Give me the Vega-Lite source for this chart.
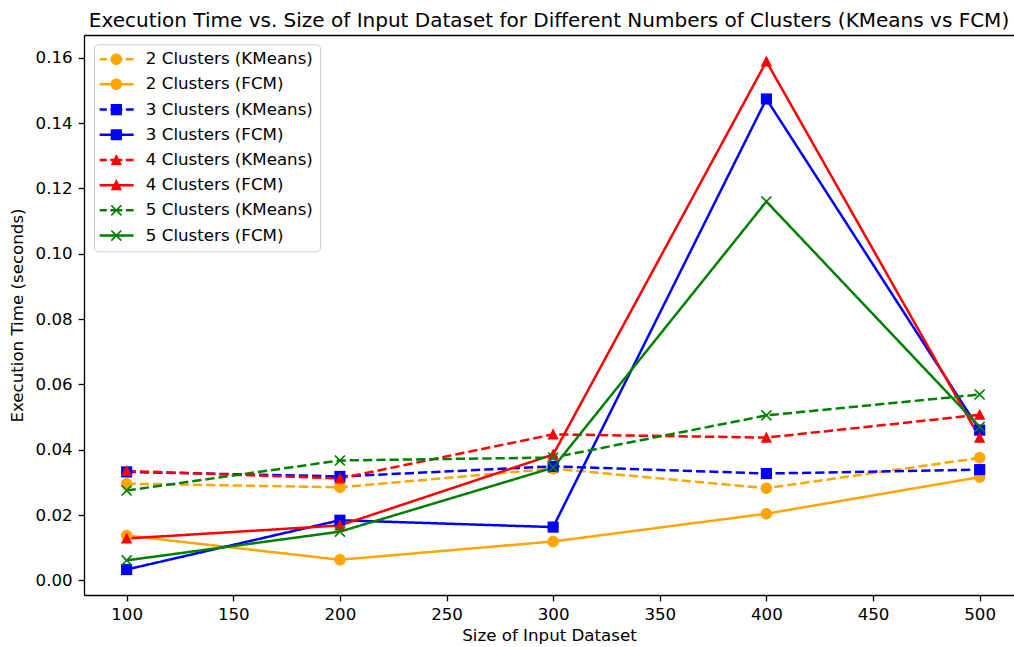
{
  "$schema": "https://vega.github.io/schema/vega-lite/v6.json",
  "autosize": "none",
  "width": 930,
  "height": 560,
  "padding": {"left": 84, "top": 35, "right": 0, "bottom": 52},
  "title": {"text": "Execution Time vs. Size of Input Dataset for Different Numbers of Clusters (KMeans vs FCM)", "font": "DejaVu Sans", "fontSize": 20, "fontWeight": "normal", "color": "black", "anchor": "middle", "baseline": "alphabetic", "offset": 9, "dy": 21},
  "config": {
    "view": {"stroke": null},
    "font": "DejaVu Sans",
    "axis": {"labelFont": "DejaVu Sans", "labelFontSize": 16.67, "labelColor": "black", "titleFont": "DejaVu Sans", "titleFontSize": 16.67, "titleFontWeight": "normal", "titleColor": "black", "tickColor": "black", "domainColor": "black", "tickSize": 5.8, "tickWidth": 1.33, "domainWidth": 1.33, "labelPadding": 6, "grid": false}
  },
  "data": {"values": [
    {"size": 100, "clusters": 2, "series": "2 Clusters (KMeans)", "time": 0.0296},
    {"size": 200, "clusters": 2, "series": "2 Clusters (KMeans)", "time": 0.0285},
    {"size": 300, "clusters": 2, "series": "2 Clusters (KMeans)", "time": 0.0342},
    {"size": 400, "clusters": 2, "series": "2 Clusters (KMeans)", "time": 0.0282},
    {"size": 500, "clusters": 2, "series": "2 Clusters (KMeans)", "time": 0.0375},
    {"size": 100, "clusters": 2, "series": "2 Clusters (FCM)", "time": 0.0137},
    {"size": 200, "clusters": 2, "series": "2 Clusters (FCM)", "time": 0.0063},
    {"size": 300, "clusters": 2, "series": "2 Clusters (FCM)", "time": 0.0119},
    {"size": 400, "clusters": 2, "series": "2 Clusters (FCM)", "time": 0.0204},
    {"size": 500, "clusters": 2, "series": "2 Clusters (FCM)", "time": 0.0316},
    {"size": 100, "clusters": 3, "series": "3 Clusters (KMeans)", "time": 0.0332},
    {"size": 200, "clusters": 3, "series": "3 Clusters (KMeans)", "time": 0.0318},
    {"size": 300, "clusters": 3, "series": "3 Clusters (KMeans)", "time": 0.0349},
    {"size": 400, "clusters": 3, "series": "3 Clusters (KMeans)", "time": 0.0327},
    {"size": 500, "clusters": 3, "series": "3 Clusters (KMeans)", "time": 0.0339},
    {"size": 100, "clusters": 3, "series": "3 Clusters (FCM)", "time": 0.0033},
    {"size": 200, "clusters": 3, "series": "3 Clusters (FCM)", "time": 0.0184},
    {"size": 300, "clusters": 3, "series": "3 Clusters (FCM)", "time": 0.0163},
    {"size": 400, "clusters": 3, "series": "3 Clusters (FCM)", "time": 0.1474},
    {"size": 500, "clusters": 3, "series": "3 Clusters (FCM)", "time": 0.0460},
    {"size": 100, "clusters": 4, "series": "4 Clusters (KMeans)", "time": 0.0335},
    {"size": 200, "clusters": 4, "series": "4 Clusters (KMeans)", "time": 0.0312},
    {"size": 300, "clusters": 4, "series": "4 Clusters (KMeans)", "time": 0.0447},
    {"size": 400, "clusters": 4, "series": "4 Clusters (KMeans)", "time": 0.0437},
    {"size": 500, "clusters": 4, "series": "4 Clusters (KMeans)", "time": 0.0507},
    {"size": 100, "clusters": 4, "series": "4 Clusters (FCM)", "time": 0.0128},
    {"size": 200, "clusters": 4, "series": "4 Clusters (FCM)", "time": 0.0168},
    {"size": 300, "clusters": 4, "series": "4 Clusters (FCM)", "time": 0.0385},
    {"size": 400, "clusters": 4, "series": "4 Clusters (FCM)", "time": 0.1589},
    {"size": 500, "clusters": 4, "series": "4 Clusters (FCM)", "time": 0.0437},
    {"size": 100, "clusters": 5, "series": "5 Clusters (KMeans)", "time": 0.0275},
    {"size": 200, "clusters": 5, "series": "5 Clusters (KMeans)", "time": 0.0367},
    {"size": 300, "clusters": 5, "series": "5 Clusters (KMeans)", "time": 0.0376},
    {"size": 400, "clusters": 5, "series": "5 Clusters (KMeans)", "time": 0.0505},
    {"size": 500, "clusters": 5, "series": "5 Clusters (KMeans)", "time": 0.0569},
    {"size": 100, "clusters": 5, "series": "5 Clusters (FCM)", "time": 0.0061},
    {"size": 200, "clusters": 5, "series": "5 Clusters (FCM)", "time": 0.0149},
    {"size": 300, "clusters": 5, "series": "5 Clusters (FCM)", "time": 0.0345},
    {"size": 400, "clusters": 5, "series": "5 Clusters (FCM)", "time": 0.1160},
    {"size": 500, "clusters": 5, "series": "5 Clusters (FCM)", "time": 0.0470}
  ]},
  "resolve": {"axis": {"x": "independent"}},
  "encoding": {
    "x": {"field": "size", "type": "quantitative", "scale": {"domain": [80, 516.11], "nice": false, "zero": false}},
    "y": {"field": "time", "type": "quantitative", "scale": {"domain": [-0.0045, 0.167], "nice": false, "zero": false}},
    "color": {"field": "series", "type": "nominal",
      "scale": {"domain": ["2 Clusters (KMeans)", "2 Clusters (FCM)", "3 Clusters (KMeans)", "3 Clusters (FCM)", "4 Clusters (KMeans)", "4 Clusters (FCM)", "5 Clusters (KMeans)", "5 Clusters (FCM)"],
                "range": ["#FFA500", "#FFA500", "#0000FF", "#0000FF", "#FF0000", "#FF0000", "#008000", "#008000"]}}
  },
  "layer": [
    {
      "transform": [{"filter": "datum.size < 0"}],
      "mark": {"type": "point", "filled": true, "opacity": 1, "strokeWidth": 0},
      "encoding": {
        "x": {"field": "size", "type": "quantitative", "scale": {"domain": [80, 516.11], "nice": false, "zero": false}, "axis": null},
        "y": {"field": "time", "type": "quantitative", "scale": {"domain": [-0.0045, 0.167], "nice": false, "zero": false},
              "axis": {"values": [0, 0.02, 0.04, 0.06, 0.08, 0.1, 0.12, 0.14, 0.16], "format": ".2f", "title": "Execution Time (seconds)", "titlePadding": 8.5}},
        "color": {"field": "series", "type": "nominal",
          "scale": {"domain": ["2 Clusters (KMeans)", "2 Clusters (FCM)", "3 Clusters (KMeans)", "3 Clusters (FCM)", "4 Clusters (KMeans)", "4 Clusters (FCM)", "5 Clusters (KMeans)", "5 Clusters (FCM)"],
                    "range": ["#FFA500", "#FFA500", "#0000FF", "#0000FF", "#FF0000", "#FF0000", "#008000", "#008000"]},
          "legend": {"orient": "none", "legendX": 10, "legendY": 9.3, "title": null, "direction": "vertical", "padding": 6.5, "symbolSize": 256, "symbolStrokeWidth": 0, "labelOffset": 28.7, "rowPadding": 7.2, "labelFont": "DejaVu Sans", "labelFontSize": 16.67, "labelColor": "black", "labelLimit": 400, "strokeColor": "#cccccc", "fillColor": "white", "cornerRadius": 4}},
        "shape": {"field": "series", "type": "nominal",
          "scale": {"domain": ["2 Clusters (KMeans)", "2 Clusters (FCM)", "3 Clusters (KMeans)", "3 Clusters (FCM)", "4 Clusters (KMeans)", "4 Clusters (FCM)", "5 Clusters (KMeans)", "5 Clusters (FCM)"],
                    "range": [
                      "M-1.15,-0.156H-0.25V0.156H-1.15Z M0.1875,-0.156H1.6875V0.156H0.1875Z M2.125,-0.156H3.1V0.156H2.125Z M0.2185,0A0.719,0.719 0 1,1 1.6565,0A0.719,0.719 0 1,1 0.2185,0Z",
                      "M-1.15,-0.156H3.1V0.156H-1.15Z M0.2185,0A0.719,0.719 0 1,1 1.6565,0A0.719,0.719 0 1,1 0.2185,0Z",
                      "M-1.15,-0.156H-0.25V0.156H-1.15Z M0.1875,-0.156H1.6875V0.156H0.1875Z M2.125,-0.156H3.1V0.156H2.125Z M0.2385,-0.699H1.6365V0.699H0.2385Z",
                      "M-1.15,-0.156H3.1V0.156H-1.15Z M0.2385,-0.699H1.6365V0.699H0.2385Z",
                      "M-1.15,-0.156H-0.25V0.156H-1.15Z M0.1875,-0.156H1.6875V0.156H0.1875Z M2.125,-0.156H3.1V0.156H2.125Z M0.9375,-0.755L1.642,0.633L0.233,0.633Z",
                      "M-1.15,-0.156H3.1V0.156H-1.15Z M0.9375,-0.755L1.642,0.633L0.233,0.633Z",
                      "M-1.15,-0.156H-0.25V0.156H-1.15Z M0.1875,-0.156H1.6875V0.156H0.1875Z M2.125,-0.156H3.1V0.156H2.125Z M1.085,0L1.638,0.553L1.49,0.7L0.9375,0.148L0.385,0.7L0.237,0.553L0.79,0L0.237,-0.553L0.385,-0.7L0.9375,-0.148L1.49,-0.7L1.638,-0.553Z",
                      "M-1.15,-0.156H3.1V0.156H-1.15Z M1.085,0L1.638,0.553L1.49,0.7L0.9375,0.148L0.385,0.7L0.237,0.553L0.79,0L0.237,-0.553L0.385,-0.7L0.9375,-0.148L1.49,-0.7L1.638,-0.553Z"
                    ]}}
      }
    },
    {
      "mark": {"type": "line", "strokeWidth": 2.5, "clip": true},
      "encoding": {
        "x": {"field": "size", "type": "quantitative", "scale": {"domain": [80, 516.11], "nice": false, "zero": false},
              "axis": {"orient": "bottom", "values": [100, 150, 200, 250, 300, 350, 400, 450, 500], "title": "Size of Input Dataset", "titlePadding": 4.5}},
        "strokeDash": {"field": "series", "type": "nominal",
          "scale": {"domain": ["2 Clusters (KMeans)", "2 Clusters (FCM)", "3 Clusters (KMeans)", "3 Clusters (FCM)", "4 Clusters (KMeans)", "4 Clusters (FCM)", "5 Clusters (KMeans)", "5 Clusters (FCM)"],
                    "range": [[9.25, 4], [1, 0], [9.25, 4], [1, 0], [9.25, 4], [1, 0], [9.25, 4], [1, 0]]}}
      }
    },
    {
      "transform": [{"filter": "datum.clusters === 2"}],
      "mark": {"type": "point", "filled": true, "opacity": 1, "size": 132.25, "strokeWidth": 0, "clip": true, "shape": "M-1,0A1,1 0 1,1 1,0A1,1 0 1,1 -1,0Z"},
      "encoding": {
        "x": {"field": "size", "type": "quantitative", "scale": {"domain": [80, 516.11], "nice": false, "zero": false},
              "axis": {"orient": "top", "labels": false, "ticks": false, "title": null, "domain": true, "minExtent": 0, "maxExtent": 0, "offset": 0}}
      }
    },
    {
      "transform": [{"filter": "datum.clusters === 3"}],
      "mark": {"type": "point", "filled": true, "opacity": 1, "size": 132.25, "strokeWidth": 0, "clip": true, "shape": "M-0.97,-0.97H0.97V0.97H-0.97Z"},
      "encoding": {
        "x": {"field": "size", "type": "quantitative", "scale": {"domain": [80, 516.11], "nice": false, "zero": false}, "axis": null}
      }
    },
    {
      "transform": [{"filter": "datum.clusters === 4"}],
      "mark": {"type": "point", "filled": true, "opacity": 1, "size": 132.25, "strokeWidth": 0, "clip": true, "shape": "M0,-1.05L0.98,0.88L-0.98,0.88Z"},
      "encoding": {
        "x": {"field": "size", "type": "quantitative", "scale": {"domain": [80, 516.11], "nice": false, "zero": false}, "axis": null}
      }
    },
    {
      "transform": [{"filter": "datum.clusters === 5"}],
      "mark": {"type": "point", "filled": true, "opacity": 1, "size": 132.25, "strokeWidth": 0, "clip": true, "shape": "M0.205,0L0.9725,0.7675L0.7675,0.9725L0,0.205L-0.7675,0.9725L-0.9725,0.7675L-0.205,0L-0.9725,-0.7675L-0.7675,-0.9725L0,-0.205L0.7675,-0.9725L0.9725,-0.7675Z"},
      "encoding": {
        "x": {"field": "size", "type": "quantitative", "scale": {"domain": [80, 516.11], "nice": false, "zero": false}, "axis": null}
      }
    }
  ]
}
